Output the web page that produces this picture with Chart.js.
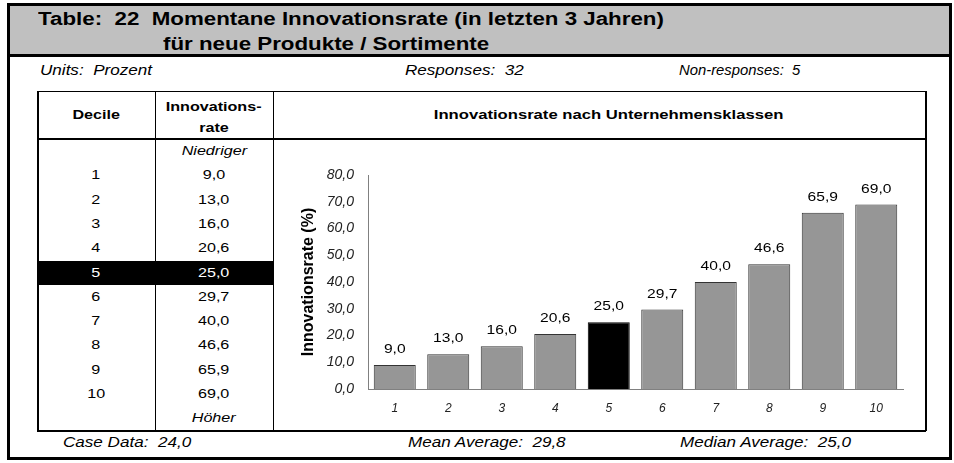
<!DOCTYPE html>
<html>
<head>
<meta charset="utf-8">
<script src="https://cdn.jsdelivr.net/npm/chart.js@4.4.0/dist/chart.umd.min.js"></script>
<style>
  html, body { margin: 0; padding: 0; background: #fff; }
  body { width: 954px; height: 463px; position: relative; overflow: hidden;
         font-family: Arial, "Liberation Sans", sans-serif; color: #000; }
  .abs { position: absolute; }
  #frame { left: 7px; top: 3px; width: 945px; height: 457px; border: 3px solid #000; box-sizing: border-box; }
  #head { left: 10px; top: 6px; width: 939px; height: 51px; background: #c0c0c0; border-bottom: 3px solid #000; box-sizing: border-box; }
  .title { font-size: 18px; font-weight: bold; white-space: pre; line-height: 18px;
           transform: scaleX(1.24); transform-origin: left center; }
  .meta { font-size: 14px; font-style: italic; white-space: pre; line-height: 14px;
          transform: scaleX(1.22); transform-origin: left center; }
  .line { background: #000; }
  .cell { font-size: 13px; text-align: center; line-height: 15px; }
  .cell span { display: inline-block; transform: scaleX(1.24); transform-origin: center; white-space: pre; }
  .hdr { font-weight: bold; }
</style>
</head>
<body>
<div id="frame" class="abs"></div>
<div id="head" class="abs"></div>
<div class="abs title" style="left:38px; top:10px;">Table:  22  Momentane Innovationsrate (in letzten 3 Jahren)</div>
<div class="abs title" style="left:163px; top:35px;">für neue Produkte / Sortimente</div>

<div class="abs meta" style="left:40px; top:63px;">Units:  Prozent</div>
<div class="abs meta" style="left:405px; top:63px;">Responses:  32</div>
<div class="abs meta" style="left:679px; top:63px; transform: scaleX(1.06);">Non-responses:  5</div>

<div id="table" class="abs" style="left:0; top:0;"></div>

<canvas id="chart" class="abs" style="left:274px; top:139px; width:651px; height:291px;"></canvas>

<div class="abs meta" style="left:63px; top:435px;">Case Data:  24,0</div>
<div class="abs meta" style="left:408px; top:435px;">Mean Average:  29,8</div>
<div class="abs meta" style="left:680px; top:435px;">Median Average:  25,0</div>

<script>
// Chart data
const deciles = ['1', '2', '3', '4', '5', '6', '7', '8', '9', '10'];
const innovationRates = [9.0, 13.0, 16.0, 20.6, 25.0, 29.7, 40.0, 46.6, 65.9, 69.0];
const medianDecile = '5';
const yMin = 0;
const yMax = 80;
const yStep = 10;

const fmt = (v) => v.toFixed(1).replace('.', ',');

/**
 * Build the decile table on the left with plain positioned divs
 */
function buildTable() {
  const t = document.getElementById('table');
  const add = (html, style, cls) => {
    const d = document.createElement('div');
    d.className = 'abs ' + (cls || '');
    d.setAttribute('style', style);
    d.innerHTML = html;
    t.appendChild(d);
    return d;
  };
  const L = 37, T = 91, R = 925, B = 430, C1 = 155, C2 = 273, H = 138;

  // highlight row for median decile
  const rowY = (i) => Math.round(151 + 24.3 * i);
  const mi = deciles.indexOf(medianDecile) + 1;
  add('', `left:${L}px; top:${rowY(mi) - 12}px; width:${C2 - L}px; height:24px; background:#000;`);

  // borders
  add('', `left:${L}px; top:${T}px; width:${R - L + 1}px; height:1px;`, 'line');
  add('', `left:${L}px; top:${B}px; width:${R - L + 1}px; height:2px;`, 'line');
  add('', `left:${L}px; top:${T}px; width:2px; height:${B - T + 1}px;`, 'line');
  add('', `left:${R}px; top:${T}px; width:2px; height:${B - T + 1}px;`, 'line');
  add('', `left:${L}px; top:${H}px; width:${R - L + 1}px; height:2px;`, 'line');
  add('', `left:${C1}px; top:${T}px; width:1px; height:${B - T}px;`, 'line');
  add('', `left:${C2}px; top:${T}px; width:1px; height:${B - T}px;`, 'line');

  // header cells
  add('<span>Decile</span>', `left:${L}px; top:107px; width:${C1 - L}px;`, 'cell hdr');
  add('<span>Innovations-</span><br><span>rate</span>', `left:${C1}px; top:96px; width:${C2 - C1}px; line-height:21px;`, 'cell hdr');
  add('<span style="transform:scaleX(1.28)">Innovationsrate nach Unternehmensklassen</span>',
      `left:${C2 + 10}px; top:107px; width:${R - C2}px;`, 'cell hdr');

  add('<span><i>Niedriger</i></span>', `left:${C1}px; top:${rowY(0) - 8}px; width:${C2 - C1}px;`, 'cell');
  deciles.forEach((d, i) => {
    const col = d === medianDecile ? 'color:#fff;' : '';
    add(`<span>${d}</span>`, `left:${L}px; top:${rowY(i + 1) - 8}px; width:${C1 - L}px; ${col}`, 'cell');
    add(`<span>${fmt(innovationRates[i])}</span>`, `left:${C1}px; top:${rowY(i + 1) - 8}px; width:${C2 - C1}px; ${col}`, 'cell');
  });
  add('<span><i>Höher</i></span>', `left:${C1}px; top:${rowY(11) - 8}px; width:${C2 - C1}px;`, 'cell');
}

buildTable();

// Value labels above bars (slightly widened like the rest of the sheet)
const valueLabels = {
  id: 'valueLabels',
  afterDatasetsDraw(chart) {
    const { ctx } = chart;
    const meta = chart.getDatasetMeta(0);
    ctx.save();
    ctx.font = '13px Arial, "Liberation Sans", sans-serif';
    ctx.fillStyle = '#000';
    ctx.textAlign = 'center';
    ctx.textBaseline = 'bottom';
    meta.data.forEach((bar, i) => {
      ctx.save();
      ctx.translate(bar.x, bar.y - 9);
      ctx.scale(1.2, 1);
      ctx.fillText(fmt(innovationRates[i]), 0, 0);
      ctx.restore();
    });
    ctx.restore();
  },
};

const ctx = document.getElementById('chart');
new Chart(ctx, {
  type: 'bar',
  data: {
    labels: deciles,
    datasets: [
      {
        data: innovationRates,
        backgroundColor: deciles.map((d) => (d === medianDecile ? '#000000' : '#969696')),
        borderColor: deciles.map((d) => (d === medianDecile ? '#000000' : '#333333')),
        borderWidth: 1,
        borderSkipped: 'bottom',
        categoryPercentage: 1,
        barPercentage: 0.785,
      },
    ],
  },
  plugins: [valueLabels],
  options: {
    responsive: false,
    animation: false,
    devicePixelRatio: 1,
    layout: { padding: { top: 36, right: 22, bottom: 0, left: 0 } },
    plugins: {
      legend: { display: false },
      tooltip: { enabled: false },
    },
    scales: {
      x: {
        grid: { display: false, drawTicks: false },
        border: { display: true, color: '#808080', width: 1 },
        ticks: {
          padding: 12,
          color: '#222',
          font: { family: 'Arial, "Liberation Sans", sans-serif', size: 12, style: 'italic' },
        },
        afterFit(scale) { scale.height = 41; },
      },
      y: {
        min: yMin,
        max: yMax,
        grid: { display: false, drawTicks: false },
        border: { display: true, color: '#808080', width: 1 },
        ticks: {
          stepSize: yStep,
          padding: 14,
          color: '#222',
          font: { family: 'Arial, "Liberation Sans", sans-serif', size: 14, style: 'italic' },
          callback: (v) => fmt(v),
        },
        title: {
          display: true,
          text: 'Innovationsrate (%)',
          color: '#000',
          padding: { top: 25, bottom: 0 },
          font: { family: 'Arial, "Liberation Sans", sans-serif', size: 16, weight: 'bold' },
        },
        afterFit(scale) { scale.width = 94; },
      },
    },
  },
});
</script>
</body>
</html>
